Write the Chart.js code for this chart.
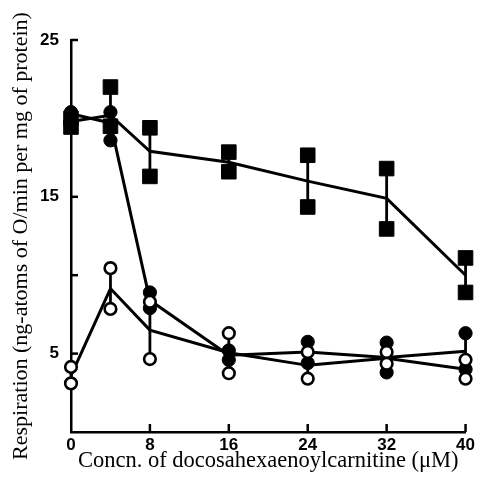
<!DOCTYPE html>
<html><head><meta charset="utf-8">
<script src="https://cdn.jsdelivr.net/npm/chart.js@4"></script>
<style>html,body{margin:0;padding:0;background:#fff}#wrap{width:478px;height:478px;position:relative}</style>
</head><body><div id="wrap"><canvas id="c" width="478" height="478"></canvas></div>
<script>
const concentrations = [0, 4, 8, 16, 24, 32, 40];
// filled squares (two replicates + mean line)
const squareRepA = [19.45, 22.0, 19.4, 17.85, 17.65, 16.8, 11.1];
const squareRepB = [20.0, 19.5, 16.3, 16.6, 14.35, 12.95, 8.9];
const squareMean = [19.8, 20.2, 17.9, 17.2, 16.0, 14.9, 10.0];
// filled circles
const filledRepA = [20.4, 20.4, 8.9, 5.2, 5.75, 5.7, 6.3];
const filledRepB = [20.2, 18.6, 7.9, 4.6, 4.4, 3.8, 4.0];
const filledMean = [20.3, 19.7, 8.4, 4.9, 5.1, 4.75, 5.15];
// open circles
const openRepA = [4.15, 10.45, 8.3, 6.3, 5.1, 5.1, 4.6];
const openRepB = [3.1, 7.85, 4.65, 3.75, 3.4, 4.35, 3.4];
const openMean = [3.6, 9.15, 6.5, 5.05, 4.25, 4.7, 4.0];
// axis ticks
const xTickLabels = [0, 8, 16, 24, 32, 40];
const yTickLabels = [5, 15, 25];
const yTickMarks = [5, 10, 15, 20, 25];

const pts = (ys) => concentrations.map((x, i) => ({x: x, y: ys[i]}));
const reps = (a, b) => pts(a).concat(pts(b));

const lineDs = (ys) => ({
  data: pts(ys), showLine: true, pointRadius: 0, borderColor: '#000',
  borderWidth: 3, fill: false, tension: 0, order: 10, clip: false
});

const errorBars = {
  id: 'errorBars',
  beforeDatasetsDraw(chart) {
    const {ctx, scales: {x, y}} = chart;
    ctx.save();
    ctx.strokeStyle = '#000';
    ctx.lineWidth = 2.5;
    // inward tick marks
    xTickLabels.forEach(v => {
      if (v === 0) return;
      const px = x.getPixelForValue(v);
      ctx.beginPath(); ctx.moveTo(px, y.bottom); ctx.lineTo(px, y.bottom - 8); ctx.stroke();
    });
    yTickMarks.forEach(v => {
      const py = y.getPixelForValue(v);
      ctx.beginPath(); ctx.moveTo(x.left, py); ctx.lineTo(x.left + 7, py); ctx.stroke();
    });
    ctx.lineWidth = 2.8;
    [[squareRepA, squareRepB], [filledRepA, filledRepB], [openRepA, openRepB]].forEach(([a, b]) => {
      concentrations.forEach((c, i) => {
        const px = x.getPixelForValue(c);
        ctx.beginPath();
        ctx.moveTo(px, y.getPixelForValue(a[i]));
        ctx.lineTo(px, y.getPixelForValue(b[i]));
        ctx.stroke();
      });
    });
    ctx.restore();
  }
};

new Chart(document.getElementById('c'), {
  type: 'scatter',
  data: {
    datasets: [
      lineDs(squareMean),
      lineDs(filledMean),
      lineDs(openMean),
      { data: reps(squareRepA, squareRepB), pointStyle: 'rect', pointRadius: 10.3,
        backgroundColor: '#000', borderColor: '#000', borderWidth: 1, order: 5, clip: false },
      { data: reps(filledRepA, filledRepB), pointStyle: 'circle', pointRadius: 6.6,
        backgroundColor: '#000', borderColor: '#000', borderWidth: 1, order: 4, clip: false },
      { data: reps(openRepA, openRepB), pointStyle: 'circle', pointRadius: 5.8,
        backgroundColor: '#fff', borderColor: '#000', borderWidth: 2.6, order: 3, clip: false }
    ]
  },
  options: {
    responsive: false,
    animation: false,
    events: [],
    layout: { padding: { top: 40, right: 11, left: 0, bottom: 0 } },
    plugins: { legend: { display: false }, tooltip: { enabled: false } },
    scales: {
      x: {
        type: 'linear', min: 0, max: 40,
        afterBuildTicks: s => { s.ticks = xTickLabels.map(v => ({value: v})); },
        afterFit: s => { s.height = 46; },
        grid: { display: false, drawTicks: false },
        border: { display: true, color: '#000', width: 2.5 },
        ticks: { color: '#000', font: { family: 'Liberation Sans', size: 17, weight: 'bold' },
                 padding: 3, maxRotation: 0, autoSkip: false },
        title: { display: true, text: 'Concn. of docosahexaenoylcarnitine (μM)', color: '#000',
                 font: { family: 'Liberation Serif', size: 22.5 }, padding: { top: 0, bottom: 3 } }
      },
      y: {
        type: 'linear', min: 0, max: 25,
        afterBuildTicks: s => { s.ticks = yTickLabels.map(v => ({value: v})); },
        afterFit: s => { s.width = 71; },
        grid: { display: false, drawTicks: false },
        border: { display: true, color: '#000', width: 2.5 },
        ticks: { color: '#000', font: { family: 'Liberation Sans', size: 17, weight: 'bold' },
                 padding: 12 },
        title: { display: true, text: 'Respiration (ng-atoms of O/min per mg of protein)', color: '#000',
                 font: { family: 'Liberation Serif', size: 22 }, padding: { top: 8, bottom: 0 } }
      }
    }
  },
  plugins: [errorBars]
});
</script>
</body></html>
